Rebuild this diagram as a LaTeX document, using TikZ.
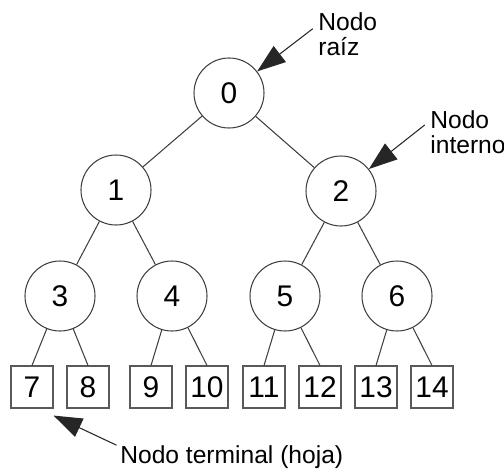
\documentclass[tikz,border=0pt]{standalone}
\usepackage{fontspec}
\setmainfont{Liberation Sans}
\usetikzlibrary{arrows.meta}

\begin{document}
\begin{tikzpicture}[
    inner/.style={circle, draw=black!75, line width=0.6pt, minimum size=1.4cm, inner sep=0pt, font=\fontsize{17}{17}\selectfont},
    leaf/.style={rectangle, draw=black!65, line width=0.6pt, minimum size=0.84cm, inner sep=0pt, font=\fontsize{17}{17}\selectfont},
    lbl/.style={align=left, inner sep=0pt, font=\fontsize{14}{14.5}\selectfont},
    pointer/.style={draw=black!85, line width=0.6pt, -{Triangle[length=0.57cm, width=0.4cm]}}
  ]
  \useasboundingbox (0,0) rectangle (10.08,9.4);

  % Define vertices
  \node[inner] (n0) at (4.58,7.54) {0};
  \node[inner] (n1) at (2.32,5.6) {1};
  \node[inner] (n2) at (6.82,5.58) {2};
  \node[inner] (n3) at (1.2,3.48) {3};
  \node[inner] (n4) at (3.44,3.48) {4};
  \node[inner] (n5) at (5.7,3.48) {5};
  \node[inner] (n6) at (7.94,3.48) {6};

  \node[leaf] (n7) at (0.64,1.66) {7};
  \node[leaf] (n8) at (1.76,1.66) {8};
  \node[leaf] (n9) at (3.02,1.66) {9};
  \node[leaf] (n10) at (4.14,1.66) {10};
  \node[leaf] (n11) at (5.28,1.66) {11};
  \node[leaf] (n12) at (6.4,1.66) {12};
  \node[leaf] (n13) at (7.52,1.66) {13};
  \node[leaf] (n14) at (8.64,1.66) {14};

  % Labels
  \node[lbl, anchor=west] (rootlbl) at (6.36,8.72) {Nodo\\raíz};
  \node[lbl, anchor=west] (intlbl) at (8.6,6.76) {Nodo\\interno};
  \node[lbl, anchor=west] (leaflbl) at (2.4,0.26) {Nodo terminal (hoja)};

  % Draw edges
  \draw[black!75, line width=0.6pt] (n0) -- (n1);
  \draw[black!75, line width=0.6pt] (n0) -- (n2);
  \draw[black!75, line width=0.6pt] (n1) -- (n3);
  \draw[black!75, line width=0.6pt] (n1) -- (n4);
  \draw[black!75, line width=0.6pt] (n2) -- (n5);
  \draw[black!75, line width=0.6pt] (n2) -- (n6);
  \draw[black!75, line width=0.6pt] (n3) -- (n7.north);
  \draw[black!75, line width=0.6pt] (n3) -- (n8.north);
  \draw[black!75, line width=0.6pt] (n4) -- (n9.north);
  \draw[black!75, line width=0.6pt] (n4) -- (n10.north);
  \draw[black!75, line width=0.6pt] (n5) -- (n11.north);
  \draw[black!75, line width=0.6pt] (n5) -- (n12.north);
  \draw[black!75, line width=0.6pt] (n6) -- (n13.north);
  \draw[black!75, line width=0.6pt] (n6) -- (n14.north);

  % Draw pointers
  \draw[pointer] ([xshift=-3pt,yshift=3pt]rootlbl.west) -- (n0);
  \draw[pointer] ([xshift=-3pt,yshift=4pt]intlbl.west) -- (n2);
  \draw[pointer] ([xshift=-2pt]leaflbl.north west) -- ([yshift=-4pt]n7.south east);
\end{tikzpicture}
\end{document}
